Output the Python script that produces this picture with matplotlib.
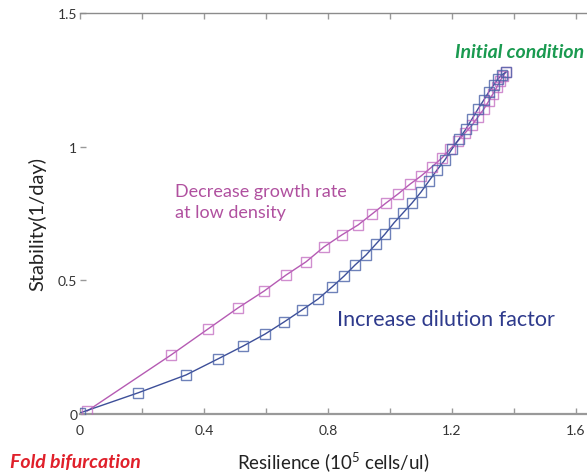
import numpy as np
import matplotlib.pyplot as plt
from matplotlib.ticker import FixedLocator

plt.rcParams['font.family'] = ['Lato', 'DejaVu Sans']
plt.rcParams['mathtext.fontset'] = 'custom'
plt.rcParams['mathtext.rm'] = 'Lato'

# path when the growth rate at low density is lowered
growth_x = [0.023, 0.294, 0.413, 0.510, 0.594, 0.665, 0.729, 0.787, 0.845, 0.897,
            0.942, 0.987, 1.026, 1.065, 1.100, 1.135, 1.168, 1.194, 1.219, 1.242,
            1.265, 1.284, 1.303, 1.319, 1.332, 1.345, 1.355, 1.365, 1.374]
growth_y = [0.011, 0.221, 0.318, 0.397, 0.460, 0.520, 0.569, 0.625, 0.670, 0.707,
            0.748, 0.789, 0.823, 0.860, 0.890, 0.924, 0.958, 0.991, 1.021, 1.051,
            1.081, 1.111, 1.141, 1.171, 1.197, 1.223, 1.246, 1.264, 1.279]

# path when the dilution factor is raised
dilution_x = [0.000, 0.187, 0.342, 0.445, 0.526, 0.597, 0.658, 0.716, 0.768, 0.813,
              0.852, 0.887, 0.923, 0.955, 0.984, 1.013, 1.042, 1.071, 1.100, 1.126,
              1.152, 1.177, 1.200, 1.223, 1.245, 1.265, 1.284, 1.303, 1.319, 1.335,
              1.348, 1.361, 1.374]
dilution_y = [0.004, 0.079, 0.146, 0.206, 0.254, 0.299, 0.344, 0.389, 0.430, 0.475,
              0.516, 0.557, 0.595, 0.636, 0.673, 0.715, 0.752, 0.789, 0.830, 0.872,
              0.913, 0.950, 0.991, 1.029, 1.066, 1.104, 1.141, 1.175, 1.205, 1.231,
              1.253, 1.268, 1.279]

x_ticks = [0, 0.2, 0.4, 0.6, 0.8, 1.0, 1.2, 1.4, 1.6]
x_labels = ['0', '', '0.4', '', '0.8', '', '1.2', '', '1.6']
y_ticks = [0, 0.5, 1, 1.5]
y_labels = ['0', '0.5', '1', '1.5']

PINK = '#b55bb3'
BLUE = '#3d4f99'

fig = plt.figure(figsize=(5.87, 4.77), dpi=100)
ax = fig.add_axes([0.1363, 0.130, 0.866, 0.8407])

ax.plot(growth_x, growth_y, color=PINK, lw=1.0, zorder=2)
ax.plot(growth_x, growth_y, ls='none', marker='s', ms=7.5, mfc='none',
        mec='#c168c0', mew=1.0, alpha=0.75, zorder=3)
ax.plot(dilution_x, dilution_y, color=BLUE, lw=1.0, zorder=2)
ax.plot(dilution_x, dilution_y, ls='none', marker='s', ms=7.5, mfc='none',
        mec='#4a62a8', mew=1.0, alpha=0.8, zorder=3)

ax.set_xlim(0, 1.64)
ax.set_ylim(0, 1.5)

ax.xaxis.set_major_locator(FixedLocator(x_ticks))
ax.set_xticklabels(x_labels)
ax.set_yticks(y_ticks)
ax.set_yticklabels(y_labels)
ax.tick_params(axis='x', direction='in', length=4, width=1, color='#999999',
               top=True, labelsize=10, labelcolor='#333333', pad=7)
ax.tick_params(axis='y', direction='in', length=4, width=1, color='#999999',
               labelsize=10, labelcolor='#333333', pad=2)

for side in ['left', 'right']:
    ax.spines[side].set_visible(False)
ax.spines['top'].set_color('#8c8c8c')
ax.spines['top'].set_linewidth(1.0)
ax.spines['bottom'].set_color('#999999')
ax.spines['bottom'].set_linewidth(1.6)

# axis titles
fig.text(0.063, 0.530, 'Stability(1/day)', fontsize=14.5, color='#222222',
         rotation=90, ha='center', va='center')
fig.text(0.404, 0.031, 'Resilience (10$^5$ cells/ul)', fontsize=13.5,
         color='#222222', ha='left', va='center')

# curve annotations
ax.text(0.305, 0.795, 'Decrease growth rate\nat low density', fontsize=13,
        color='#b0509f', ha='left', va='center', linespacing=1.4)
ax.text(0.829, 0.355, 'Increase dilution factor', fontsize=15.5,
        color='#2e3a8c', ha='left', va='center')
fig.text(0.995, 0.890, 'Initial condition', fontsize=14, color='#1a9a50',
         fontweight='bold', fontstyle='italic', ha='right', va='center')
fig.text(0.017, 0.031, 'Fold bifurcation', fontsize=14, color='#e0202a',
         fontweight='bold', fontstyle='italic', ha='left', va='center')

fig.savefig('out.png', dpi=100)
